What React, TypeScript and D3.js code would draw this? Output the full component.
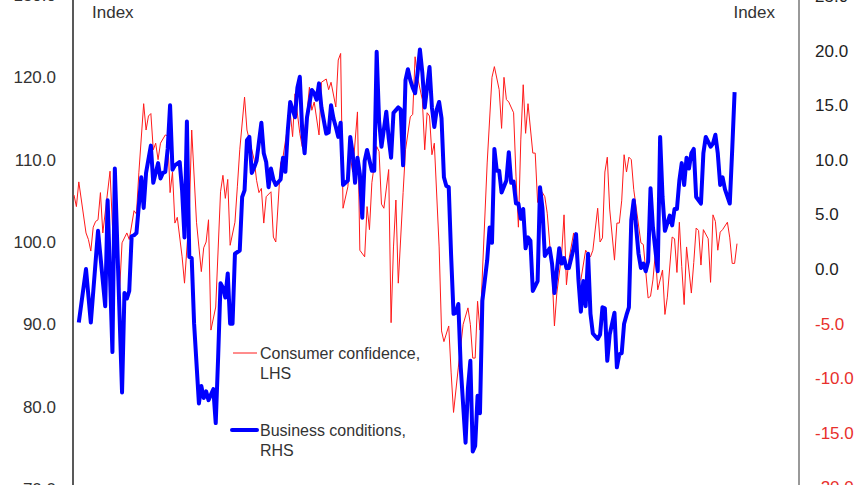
import React from 'react';
import * as d3 from 'd3';

// months since start of series, value
const consumerConfidence: [number, number][] = [
  [0, 105.7], [1, 104.3], [2, 107.3], [5, 101.1], [6, 100.3], [7, 98.9], [8, 101.8], [9, 102.5], [10, 102.7],
  [11, 106], [12, 101.1], [15, 108.6], [16, 102], [18, 99.5], [19, 94.2], [20, 99.9], [22, 101.1], [23, 100.3],
  [25, 103.8], [26, 103.4], [27, 108.4], [29, 116.8], [30, 113.6], [31, 115.3], [32, 115.6], [33, 111.2],
  [34, 112], [35, 110], [36, 112], [38, 113], [39, 112.9], [40, 106], [41, 108.5], [42, 102.3], [43, 103],
  [45, 98.2], [46, 95], [48, 103.5], [49, 113.6], [51, 102.4], [52, 99.4], [53, 96.4], [54, 99.3], [55, 100],
  [56, 102.7], [57, 89.3], [59, 92.1], [61, 106.1], [62, 108.1], [63, 105.3], [64, 107.6], [65, 99.6],
  [67, 102.4], [68, 106.7], [69, 111.2], [71, 117.6], [72, 113.6], [74, 111.2], [75, 110], [76, 107.5],
  [77, 106], [78, 106.5], [79, 102.3], [80, 105.5], [82, 106.1], [83, 100.6], [84, 100], [86, 109.6],
  [87, 110.3], [89, 114.2], [90, 115.8], [91, 112.8], [92, 118], [94, 113.2], [95, 111.6], [97, 115.7],
  [98, 118.8], [99, 116], [100, 117], [102, 113], [103, 119.4], [105, 119.8], [106, 118.5], [107, 119.4],
  [109, 116.4], [110, 122.1], [111, 122.9], [112, 104.1], [114, 106.7], [115, 110.4], [116, 108.5],
  [118, 115.8], [119, 99], [121, 98.2], [122, 104.3], [123, 101.5], [124, 107.2], [126, 111.6], [127, 111],
  [128, 104.6], [129, 104.1], [131, 108.8], [132, 90.2], [133, 99.4], [134, 105.1], [135, 95], [137, 106],
  [138, 111.2], [140, 115.2], [141, 115.5], [142, 122.5], [143, 120], [145, 117.3], [146, 111.2],
  [147, 115.7], [148, 115.3], [149, 110.6], [150, 112], [152, 99.4], [153, 89.2], [154, 87.9], [156, 89.8],
  [157, 84.1], [158, 79.3], [160, 84.8], [162, 90], [164, 92], [165, 90], [166, 85.9], [167, 85.9],
  [168, 92.8], [169, 89.3], [172, 109.6], [174, 120], [175, 121.3], [177, 118.5], [178, 113.8], [179, 120],
  [180, 117.3], [181, 117], [183, 115.7], [184, 108], [185, 101.8], [186, 112.4], [187, 119.1], [188, 113.2],
  [189, 116.8], [191, 110.8], [192, 110.8], [193, 104.8], [194, 106.4], [195, 106], [196, 105.5],
  [197, 103.5], [199, 96.3], [200, 89.8], [201, 93.8], [203, 98.5], [204, 103.3], [205, 94.8], [206, 97.8],
  [208, 101.1], [209, 98.5], [210, 95.4], [211, 95.4], [213, 99], [215, 98.2], [216, 99], [218, 104.1],
  [219, 100], [220, 100.5], [221, 108.5], [222, 110.3], [223, 104], [225, 97.8], [226, 102.3], [227, 102.3],
  [228, 105], [229, 110.6], [230, 108.5], [231, 110.3], [232, 110], [233, 106.4], [236, 99.9], [237, 99.7],
  [239, 93.2], [240, 93.4], [241, 95.4], [242, 98.6], [243, 94.2], [245, 96.6], [246, 91.2], [247, 93.3],
  [249, 100.6], [250, 100.4], [251, 96.3], [252, 102.4], [253, 97], [254, 92.4], [255, 99.4], [257, 93.8],
  [258, 97.5], [259, 101.7], [260, 101.4], [261, 97.2], [262, 101.5], [264, 100.4], [265, 95.1],
  [266, 103.3], [267, 102.5], [268, 99], [269, 101.2], [270, 101.5], [272, 102.4], [273, 100.5],
  [274, 97.4], [275, 97.4], [276, 99.8],
];

const businessConditions: [number, number][] = [
  [2, -4.9], [5, 0.0], [7, -4.9], [10, 3.5], [13, -3.4], [14, 6.3], [16, -7.6], [17, 9.2], [20, -11.3],
  [21, -2.2], [22, -2.7], [23, -2], [24, 3.0], [25, 3.1], [26, 3.3], [28, 8.4], [29, 5.6], [30, 8.8],
  [32, 11.3], [33, 7.9], [35, 9.7], [36, 8.3], [37, 8.8], [38, 8.9], [39, 11], [40, 15.0], [41, 9.1],
  [42, 9.5], [44, 9.8], [45, 7.2], [46, 2.9], [47, 13.5], [48, 1.1], [49, 1.0], [50, -5.0], [52, -12.3],
  [53, -10.7], [54, -11.8], [55, -11.2], [56, -12], [57, -11.5], [58, -11], [59, -14.1], [60, -8.1],
  [61, -1.3], [62, -1.7], [63, -2.6], [64, -0.4], [65, -5.0], [66, -5.0], [67, 1.4], [69, 1.7], [70, 6.6],
  [71, 7.2], [72, 11.8], [73, 12.1], [74, 8.8], [75, 9.3], [76, 9.9], [78, 13.4], [79, 10.6], [80, 9.8],
  [81, 7.5], [82, 9.2], [83, 8.2], [84, 7.7], [86, 8.2], [87, 10.2], [88, 8.9], [89, 12.7], [90, 15.3],
  [92, 13.9], [93, 16.6], [94, 17.6], [95, 12.7], [96, 10.6], [97, 13.9], [99, 16.4], [100, 16.1],
  [101, 15.5], [102, 17.0], [103, 14.8], [105, 12.4], [106, 12.5], [107, 15], [108, 13.8], [109, 13],
  [110, 12.1], [111, 13.4], [112, 7.7], [114, 8.1], [115, 12.1], [116, 10.6], [117, 7.9], [118, 10.2],
  [119, 8.7], [120, 4.7], [121, 9.9], [122, 10.9], [124, 9.0], [125, 9.0], [126, 19.9], [127, 13.6],
  [128, 11.2], [130, 14.4], [131, 12], [132, 10.2], [133, 14.3], [135, 14.8], [136, 14.6], [137, 9.5],
  [138, 17.3], [139, 18.3], [140, 17.3], [141, 16.6], [142, 16.1], [143, 17.9], [144, 20.1], [145, 18.0],
  [146, 14.8], [148, 18.5], [149, 14.8], [150, 13.0], [151, 14.6], [152, 15.3], [153, 13.8], [154, 8.4],
  [155, 7.6], [156, 7.5], [157, 1.2], [158, -4.1], [159, -4], [160, -3.2], [161, -9], [163, -15.9],
  [164, -10.9], [165, -8.4], [166, -16.7], [167, -16.2], [168, -11.6], [169, -13.2], [170, -2.9],
  [172, 0.8], [173, 3.8], [174, 2.4], [175, 11.0], [176, 9.0], [177, 9.0], [178, 7.0], [180, 8.1],
  [181, 10.7], [182, 7.9], [183, 8], [184, 6.0], [185, 6.0], [186, 4.6], [187, 5.5], [188, 1.9], [189, 2.9],
  [190, 2.6], [191, -2.0], [193, -1.1], [194, 7.5], [195, 5.6], [196, 1.2], [198, 1.9], [199, 0.5],
  [200, -2.2], [202, 1.9], [203, 0.5], [204, 1.0], [205, 0.1], [206, 0.1], [208, 1.9], [209, 3.2],
  [210, -1], [211, -3.9], [212, -1.1], [213, -3.4], [214, 1.4], [215, -4.1], [216, -5.9], [218, -6.4],
  [219, -6.0], [220, -3.5], [221, -3.6], [222, -8.4], [223, -6], [225, -4.0], [226, -9.0], [227, -7.8],
  [228, -7.7], [229, -5.0], [230, -4.2], [231, -3.5], [232, 4.5], [233, 6.3], [235, 1.4], [236, 0.1],
  [237, 0.5], [238, -0.2], [239, 0.7], [240, 7.4], [241, 3.8], [243, -0.2], [244, 12.1], [245, 6.6],
  [246, 3.5], [248, 4.9], [249, 4.0], [250, 5.5], [251, 5.5], [252, 8.1], [253, 9.7], [254, 7.7],
  [255, 10.2], [256, 9.2], [257, 10.6], [258, 11.0], [259, 6.6], [261, 6.0], [262, 10.6], [263, 12.1],
  [265, 11.2], [266, 11.5], [267, 12.3], [268, 10.6], [269, 7.7], [270, 8.4], [271, 7.3], [273, 6.0],
  [274, 10.9], [275, 16.2],
];

const leftTicks = [70, 80, 90, 100, 110, 120, 130];
const rightTicks = [-20, -15, -10, -5, 0, 5, 10, 15, 20, 25];

const W = 862;
const H = 485;

const font = 'Arial, "Liberation Sans", Helvetica, sans-serif';

export default function App() {
  const x = d3.scaleLinear().domain([0, 276]).range([74, 737]);
  const yLeft = d3.scaleLinear().domain([70, 130]).range([489, -5]);
  const yRight = d3.scaleLinear().domain([-20, 25]).range([487.5, -4]);

  const ccLine = d3.line<[number, number]>()
    .x(d => x(d[0]))
    .y(d => yLeft(d[1]));
  const bcLine = d3.line<[number, number]>()
    .x(d => x(d[0]))
    .y(d => yRight(d[1]));

  return (
    <svg
      width={W}
      height={H}
      style={{ position: 'absolute', left: 0, top: 0, background: '#fff' }}
      fontFamily={font}
    >
      {/* axes */}
      <line x1={73} x2={73} y1={0} y2={H} stroke="#222" strokeWidth={1.5} />
      <line x1={799} x2={799} y1={0} y2={H} stroke="#777" strokeWidth={1.5} />

      {leftTicks.map(t => (
        <text key={t} x={56} y={yLeft(t)} dy="0.35em" textAnchor="end" fontSize={17} fill="#333">
          {t.toFixed(1)}
        </text>
      ))}
      {rightTicks.map(t => (
        <text key={t} x={815} y={yRight(t)} dy="0.35em" textAnchor="start" fontSize={17}
          fill={t < 0 ? '#e8302c' : '#222'}>
          {t.toFixed(1)}
        </text>
      ))}

      <text x={92} y={18} fontSize={17} fill="#333">Index</text>
      <text x={775} y={18} fontSize={17} fill="#333" textAnchor="end">Index</text>

      {/* series */}
      <path d={ccLine(consumerConfidence) ?? ''} fill="none" stroke="#ff1a1a" strokeWidth={1} />
      <path d={bcLine(businessConditions) ?? ''} fill="none" stroke="#0000ff" strokeWidth={4}
        strokeLinejoin="round" />

      {/* legend */}
      <line x1={233} x2={257} y1={353} y2={353} stroke="#ff1a1a" strokeWidth={1} />
      <text x={260} y={353} dy="0.35em" fontSize={16} fill="#333">Consumer confidence,</text>
      <text x={260} y={373} dy="0.35em" fontSize={16} fill="#333">LHS</text>
      <line x1={232} x2={257} y1={430} y2={430} stroke="#0000ff" strokeWidth={4} strokeLinecap="round" />
      <text x={260} y={430} dy="0.35em" fontSize={16} fill="#333">Business conditions,</text>
      <text x={260} y={450} dy="0.35em" fontSize={16} fill="#333">RHS</text>
    </svg>
  );
}
